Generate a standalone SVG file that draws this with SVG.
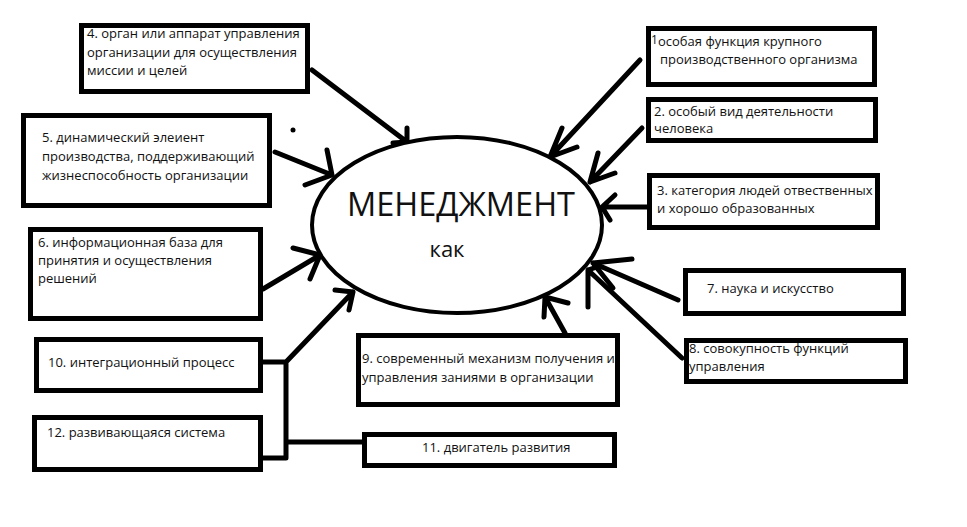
<svg xmlns="http://www.w3.org/2000/svg" width="967" height="527" viewBox="0 0 967 527">
<style>
.box{fill:#fff;stroke:#000;stroke-width:5}
.t{font-family:"Open Sans","DejaVu Sans",sans-serif;font-size:13px;fill:#111}
.c{fill:none;stroke:#000;stroke-width:5;stroke-linecap:round;stroke-linejoin:round}
</style>
<rect width="967" height="527" fill="#fff"/>
<g id="connectors">
<path class="c" d="M312 70 L407 142 M407 128 L407 142 L393 143"/>
<path class="c" d="M275 152 L332 175 M327 150 L332 175 L305 185"/>
<path class="c" d="M263 289 L320 255 M293 248 L320 255 L310 279"/>
<path class="c" d="M640 60 L550 157 M562 128 L550 157 L577 147"/>
<path class="c" d="M642 128 L590 182 M598 153 L590 182 L615 173"/>
<path class="c" d="M647 207 L602 207 M615 195 L602 207 L610 220"/>
<path class="c" d="M678 300 L593 263 M632 259 L593 263 L613 288"/>
<path class="c" d="M682 358 L588 270 M588 307 L588 270 L600 266"/>
<path class="c" d="M565 333 L545 297 M544 317 L545 297 L568 303"/>
<path class="c" d="M263 362 L286 362 L286 458 L263 458 M286 442 L362 442 M286 362 L353 292 M335 290 L353 292 L349 310"/>
</g>
<g id="center">
<ellipse cx="457" cy="225" rx="145" ry="88" fill="#fff" stroke="#000" stroke-width="4"/>
<text x="461" y="216" text-anchor="middle" style="font-family:'Open Sans','DejaVu Sans',sans-serif;font-size:32.5px;fill:#111">МЕНЕДЖМЕНТ</text>
<text x="447" y="257" text-anchor="middle" style="font-family:'Open Sans','DejaVu Sans',sans-serif;font-size:22px;fill:#111">как</text>
</g>
<circle cx="293" cy="130" r="2.5" fill="#000"/>
<g id="n4"><rect class="box" x="81.5" y="25.5" width="226" height="66"/>
<text class="t" x="87" y="38">4. орган или аппарат управления</text>
<text class="t" x="87" y="57">организации для осуществления</text>
<text class="t" x="87" y="75">миссии и целей</text></g>
<g id="n5"><rect class="box" x="23.5" y="115.5" width="246" height="90"/>
<text class="t" x="42" y="142">5. динамический элеиент</text>
<text class="t" x="42" y="161">производства, поддерживающий</text>
<text class="t" x="42" y="180">жизнеспособность организации</text></g>
<g id="n6"><rect class="box" x="30.5" y="229.5" width="230" height="89"/>
<text class="t" x="38" y="247">6. информационная база для</text>
<text class="t" x="38" y="265">принятия и осуществления</text>
<text class="t" x="38" y="283">решений</text></g>
<g id="n10"><rect class="box" x="36.5" y="339.5" width="224" height="51"/>
<text class="t" x="48" y="367">10. интеграционный процесс</text></g>
<g id="n12"><rect class="box" x="34.5" y="417.5" width="226" height="52"/>
<text class="t" x="47" y="437">12. развивающаяся система</text></g>
<g id="n1"><rect class="box" x="648.5" y="28.5" width="226" height="56"/>
<text class="t" x="651" y="44" style="font-size:12px">1</text>
<text class="t" x="658" y="46">особая функция крупного</text>
<text class="t" x="660" y="64">производственного организма</text></g>
<g id="n2"><rect class="box" x="648.5" y="99.5" width="227" height="41"/>
<text class="t" x="654" y="116">2. особый вид деятельности</text>
<text class="t" x="654" y="133">человека</text></g>
<g id="n3"><rect class="box" x="649.5" y="175.5" width="228" height="52"/>
<text class="t" x="657" y="195">3. категория людей отвественных</text>
<text class="t" x="657" y="213">и хорошо образованных</text></g>
<g id="n7"><rect class="box" x="685.5" y="270.5" width="218" height="43"/>
<text class="t" x="707" y="293">7. наука и искусство</text></g>
<g id="n8"><rect class="box" x="686.5" y="340.5" width="219" height="41"/>
<text class="t" x="689" y="353">8. совокупность функций</text>
<text class="t" x="689" y="371">управления</text></g>
<g id="n9"><rect class="box" x="358.5" y="335.5" width="259" height="69"/>
<text class="t" x="362" y="363">9. современный механизм получения и</text>
<text class="t" x="362" y="382">управления заниями в организации</text></g>
<g id="n11"><rect class="box" x="364.5" y="434.5" width="250" height="31"/>
<text class="t" x="422" y="452">11. двигатель развития</text></g>
</svg>
